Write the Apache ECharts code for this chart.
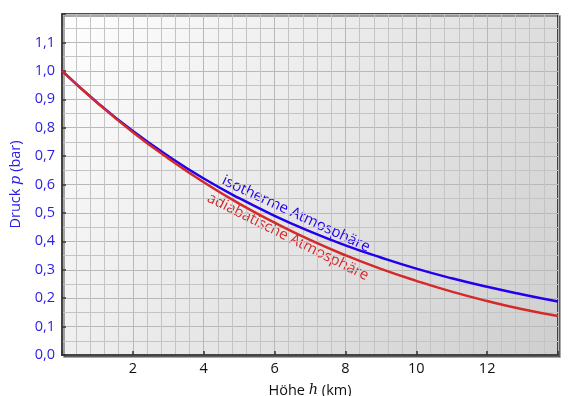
<!DOCTYPE html>
<html><head><meta charset="utf-8">
<script src="https://cdn.jsdelivr.net/npm/echarts@6/dist/echarts.min.js"></script>
<style>html,body{margin:0;padding:0;background:#fff}#c{width:572px;height:396px}</style>
</head><body><div id="c"></div>
<script>
const heights = [0,1,2,3,4,5,6,7,8,9,10,11,12,13,14];
const isotherm = [1.000,0.888,0.788,0.700,0.621,0.552,0.490,0.435,0.386,0.343,0.304,0.270,0.240,0.213,0.188];
const adiabatic = [1.000,0.887,0.784,0.692,0.608,0.533,0.466,0.405,0.351,0.303,0.261,0.223,0.190,0.161,0.137];
const xTicks = [2,4,6,8,10,12];
const yTicks = [0,0.1,0.2,0.3,0.4,0.5,0.6,0.7,0.8,0.9,1.0,1.1];

const chart = echarts.init(document.getElementById('c'));
const font = '"Open Sans","Noto Sans",sans-serif';
chart.setOption({
  animation:false,
  textStyle:{fontFamily:font},
  grid:{left:62,right:14,top:14,bottom:41,show:true,outerBoundsMode:'none',containLabel:false,
    backgroundColor:new echarts.graphic.LinearGradient(0,0,1,1,[{offset:0,color:'#ffffff'},{offset:1,color:'#cecece'}]),
    borderColor:'#111',borderWidth:1.5,shadowColor:'rgba(0,0,0,0.45)',shadowOffsetX:2,shadowOffsetY:2,shadowBlur:0},
  xAxis:{type:'value',min:0,max:14,interval:2,
    axisLine:{show:true,lineStyle:{color:'#444',width:2}},
    axisTick:{show:true,inside:true,length:4,lineStyle:{color:'#333',width:1.5}},
    axisLabel:{color:'#111',fontSize:14.5,fontFamily:font,margin:6,
      formatter:v=>xTicks.includes(v)?String(v):''},
    splitLine:{show:true,lineStyle:{color:'#b8b8b8',width:1}},
    minorTick:{show:false,splitNumber:5},
    minorSplitLine:{show:true,lineStyle:{color:'#c4c4c4',width:1}},
    name:'{n|Höhe }{i|h}{n| (km)}',nameLocation:'middle',nameGap:28,
    nameTextStyle:{rich:{n:{fontSize:14.5,color:'#111',fontFamily:font},i:{fontSize:14.5,color:'#111',fontStyle:'italic',fontFamily:'"DejaVu Serif",serif'}}}
  },
  yAxis:{type:'value',min:0,max:1.2,interval:0.1,
    axisLine:{show:true,lineStyle:{color:'#444',width:2}},
    axisTick:{show:true,inside:true,length:4,lineStyle:{color:'#333',width:1.5}},
    axisLabel:{color:'#2a1be6',fontSize:14.5,fontFamily:font,margin:7,
      formatter:v=>{const t=yTicks.find(x=>Math.abs(x-v)<1e-6);return t===undefined?'':t.toFixed(1).replace('.',',');}},
    splitLine:{show:true,lineStyle:{color:'#b8b8b8',width:1}},
    minorTick:{show:false,splitNumber:2},
    minorSplitLine:{show:true,lineStyle:{color:'#c4c4c4',width:1}},
    name:'{n|Druck }{i|p}{n| (bar)}',nameLocation:'middle',nameGap:37,nameRotate:90,
    nameTextStyle:{rich:{n:{fontSize:14.5,color:'#2a1be6',fontFamily:font},i:{fontSize:14.5,color:'#2a1be6',fontStyle:'italic',fontFamily:'"DejaVu Serif",serif'}}}
  },
  series:[
    {type:'line',data:heights.map((h,i)=>[h,isotherm[i]]),smooth:true,showSymbol:false,
      lineStyle:{color:'#2200ee',width:2.5},z:3},
    {type:'line',data:heights.map((h,i)=>[h,adiabatic[i]]),smooth:true,showSymbol:false,
      lineStyle:{color:'#d42a2a',width:2.5},z:4}
  ],
  graphic:[
    {type:'text',x:296,y:214,rotation:-25*Math.PI/180,
      style:{text:'isotherme Atmosphäre',fill:'#2200ee',font:'15px '+font,align:'center',verticalAlign:'middle'}},
    {type:'text',x:288,y:237,rotation:-26.5*Math.PI/180,
      style:{text:'adiabatische Atmosphäre',fill:'#d42a2a',font:'15px '+font,align:'center',verticalAlign:'middle'}}
  ]
});
</script></body></html>
